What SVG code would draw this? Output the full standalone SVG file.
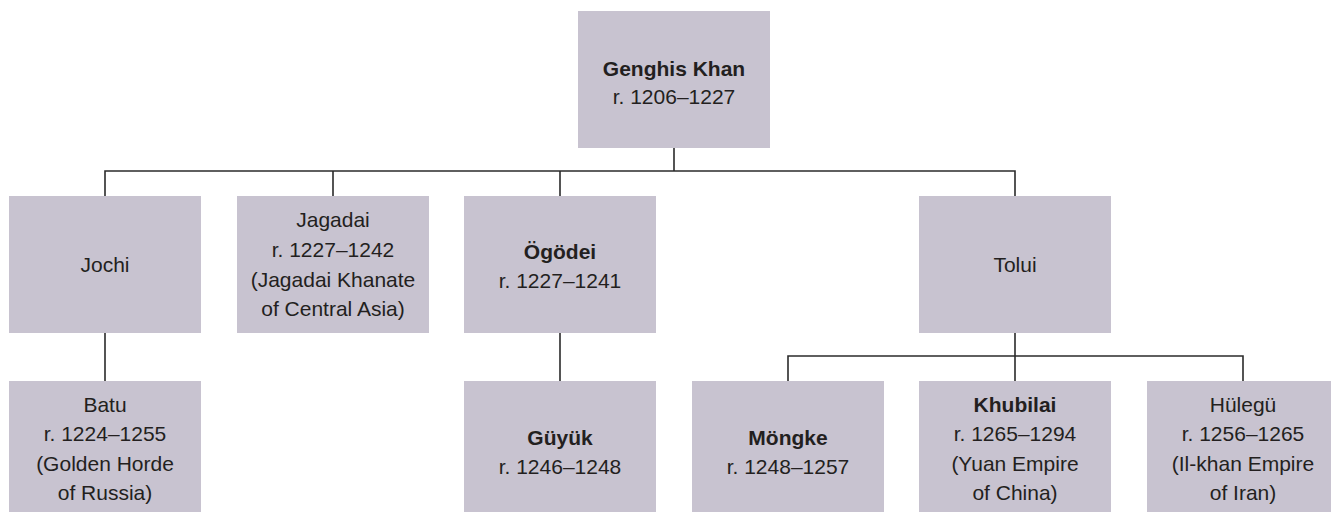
<svg xmlns="http://www.w3.org/2000/svg" width="1331" height="512" viewBox="0 0 1331 512">
<style>
.box{fill:#c8c3d0}
text{font-family:"Liberation Sans",Arial,sans-serif;font-size:21px;fill:#231f20;text-anchor:middle}
.b{font-weight:bold}
.ln{fill:none;stroke:#2b2b2b;stroke-width:1.6}
</style>
<rect width="1331" height="512" fill="#ffffff"/>
<g id="connectors">
<path class="ln" d="M674 148V171M105 196V171H1015V196M333 171V196M560 171V196"/>
<path class="ln" d="M105 333V381M560 333V381"/>
<path class="ln" d="M1015 333V381M788 381V356H1243V381"/>
</g>
<g id="genghis"><rect class="box" x="578" y="11" width="192" height="137"/>
<text x="674" y="76"><tspan class="b">Genghis Khan</tspan><tspan x="674" y="104">r. 1206–1227</tspan></text></g>
<g id="jochi"><rect class="box" x="9" y="196" width="192" height="137"/>
<text x="105" y="271.5">Jochi</text></g>
<g id="jagadai"><rect class="box" x="237" y="196" width="192" height="137"/>
<text x="333" y="226.5">Jagadai<tspan x="333" y="256.5">r. 1227–1242</tspan><tspan x="333" y="286.5">(Jagadai Khanate</tspan><tspan x="333" y="316">of Central Asia)</tspan></text></g>
<g id="ogodei"><rect class="box" x="464" y="196" width="192" height="137"/>
<text x="560" y="259"><tspan class="b">Ögödei</tspan><tspan x="560" y="288">r. 1227–1241</tspan></text></g>
<g id="tolui"><rect class="box" x="919" y="196" width="192" height="137"/>
<text x="1015" y="271.5">Tolui</text></g>
<g id="batu"><rect class="box" x="9" y="381" width="192" height="137"/>
<text x="105" y="412">Batu<tspan x="105" y="441">r. 1224–1255</tspan><tspan x="105" y="471">(Golden Horde</tspan><tspan x="105" y="500">of Russia)</tspan></text></g>
<g id="guyuk"><rect class="box" x="464" y="381" width="192" height="137"/>
<text x="560" y="445"><tspan class="b">Güyük</tspan><tspan x="560" y="473.5">r. 1246–1248</tspan></text></g>
<g id="mongke"><rect class="box" x="692" y="381" width="192" height="137"/>
<text x="788" y="445"><tspan class="b">Möngke</tspan><tspan x="788" y="473.5">r. 1248–1257</tspan></text></g>
<g id="khubilai"><rect class="box" x="919" y="381" width="192" height="137"/>
<text x="1015" y="412"><tspan class="b">Khubilai</tspan><tspan x="1015" y="441">r. 1265–1294</tspan><tspan x="1015" y="471">(Yuan Empire</tspan><tspan x="1015" y="500">of China)</tspan></text></g>
<g id="hulegu"><rect class="box" x="1147" y="381" width="192" height="137"/>
<text x="1243" y="412">Hülegü<tspan x="1243" y="441">r. 1256–1265</tspan><tspan x="1243" y="471">(Il-khan Empire</tspan><tspan x="1243" y="500">of Iran)</tspan></text></g>
</svg>
